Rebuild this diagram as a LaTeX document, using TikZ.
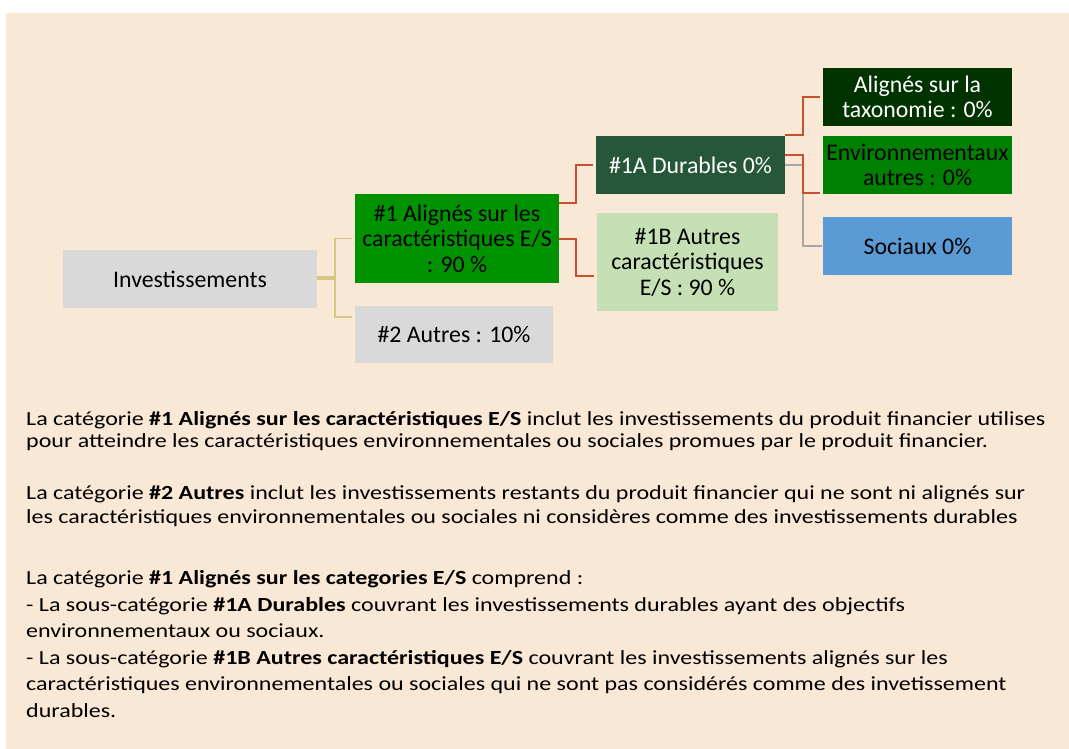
\documentclass[tikz,border=0pt]{standalone}
\usepackage{fontspec}
\setmainfont{Carlito}
\newfontfamily\bodyfont{Carlito}[FakeStretch=1.2]
\usetikzlibrary{calc}
\definecolor{bg}{HTML}{FAE8D7}
\definecolor{boxgray}{HTML}{D9D9D9}
\definecolor{greenA}{HTML}{009200}
\definecolor{greenEnv}{HTML}{008000}
\definecolor{darkgreen}{HTML}{26573A}
\definecolor{taxgreen}{HTML}{003300}
\definecolor{lightgreen}{HTML}{C5E0B4}
\definecolor{socblue}{HTML}{5B9BD5}
\definecolor{redline}{HTML}{C9502E}
\definecolor{yelline}{HTML}{D6C880}
\definecolor{grayline}{HTML}{A6A6A6}
\tikzset{
  box/.style={inner sep=0pt, align=center, font=\fontsize{23.8}{25.5}\selectfont},
  redc/.style={draw=redline, line width=2pt},
  yelc/.style={draw=yelline, line width=1.6pt},
  grayc/.style={draw=grayline, line width=1.6pt},
  para/.style={anchor=base west, inner sep=0pt, align=left},
}
\begin{document}
\begin{tikzpicture}[x=1pt,y=-1pt]
\useasboundingbox (0,0) rectangle (1069,749);
\fill[white] (0,0) rectangle (1069,749);
\fill[bg] (6,13) rectangle (1069,749);

\node[box, fill=boxgray, minimum width=254pt, minimum height=58pt] (inv) at (190,279) {Investissements};
\node[box, fill=greenA, minimum width=204pt, minimum height=89pt] (a1) at (457,238.5) {\#1 Alignés sur les\\caractéristiques E/S\\: 90 \%};
\node[box, fill=boxgray, minimum width=198pt, minimum height=57pt] (a2) at (454,334.5) {\#2 Autres : 10\%};
\node[box, fill=darkgreen, text=white, minimum width=189pt, minimum height=58pt] (a1a) at (690.5,165) {\#1A Durables 0\%};
\node[box, fill=lightgreen, minimum width=181pt, minimum height=98pt] (a1b) at (687.5,262) {\#1B Autres\\caractéristiques\\E/S : 90 \%};
\node[box, fill=taxgreen, text=white, minimum width=189pt, minimum height=58pt] (tax) at (917.5,97) {Alignés sur la\\taxonomie : 0\%};
\node[box, fill=greenEnv, minimum width=189pt, minimum height=58pt] (env) at (917.5,165) {Environnementaux\\autres : 0\%};
\node[box, fill=socblue, minimum width=189pt, minimum height=58pt] (soc) at (917.5,246) {Sociaux 0\%};

\draw[yelc] ([yshift=2pt]inv.east) -- ++(18,0) |- ([xshift=-3pt]a1.west);
\draw[yelc] (inv.east) -- ++(18,0) |- ([xshift=-3pt,yshift=17.5pt]a2.west);
\draw[redc] ([yshift=35.5pt]a1.east) -- ++(17,0) |- ([xshift=-3pt]a1a.west);
\draw[redc] (a1.east) -- ++(17,0) |- ([xshift=-3pt,yshift=-14pt]a1b.west);
\draw[grayc] (a1a.east) -- ++(18,0) |- ([xshift=-1pt]soc.west);
\draw[redc] ([yshift=30pt]a1a.east) -- ++(18,0) |- ([xshift=-3pt]tax.west);
\draw[redc] ([yshift=10pt]a1a.east) -- ++(18,0) |- ([xshift=-3pt,yshift=-28pt]env.west);

\node[para, font=\bodyfont\fontsize{20}{22.4}\selectfont] (p1) at (26,447.5) {La catégorie \textbf{\#1 Alignés sur les caractéristiques E/S} inclut les investissements du produit financier utilises\\pour atteindre les caractéristiques environnementales ou sociales promues par le produit financier.};
\node[para, font=\bodyfont\fontsize{20}{23.5}\selectfont] (p2) at (26,523) {La catégorie \textbf{\#2 Autres} inclut les investissements restants du produit financier qui ne sont ni alignés sur\\les caractéristiques environnementales ou sociales ni considères comme des investissements durables};
\node[para, font=\bodyfont\fontsize{20}{26.5}\selectfont] (p3) at (26,717) {La catégorie \textbf{\#1 Alignés sur les categories E/S} comprend :\\- La sous-catégorie \textbf{\#1A Durables} couvrant les investissements durables ayant des objectifs\\environnementaux ou sociaux.\\- La sous-catégorie \textbf{\#1B Autres caractéristiques E/S} couvrant les investissements alignés sur les\\caractéristiques environnementales ou sociales qui ne sont pas considérés comme des invetissement\\durables.};
\end{tikzpicture}
\end{document}
